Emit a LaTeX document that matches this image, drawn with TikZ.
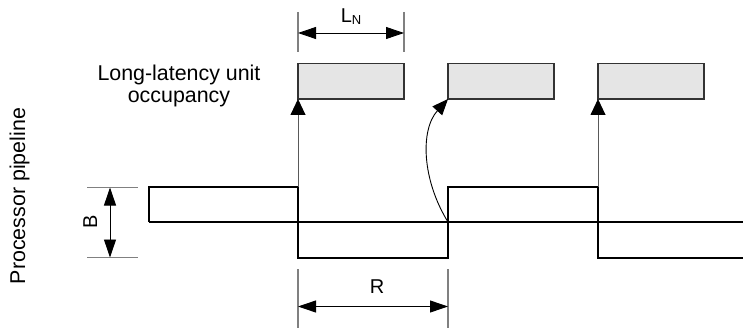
\documentclass[tikz,border=0pt]{standalone}
\usepackage{fontspec}
\setmainfont{Liberation Sans}
\usetikzlibrary{arrows.meta}
\begin{document}
\begin{tikzpicture}[x=1pt,y=-1pt,
  wave/.style={line width=2.4pt, line join=miter},
  ubox/.style={draw=black!80, line width=1.8pt, fill=black!10, minimum width=106pt, minimum height=35.5pt, inner sep=0pt, outer sep=0pt, anchor=south west},
  ext/.style={draw=black!50, line width=1.1pt},
  dim/.style={line width=0.9pt, {Triangle[length=18pt,width=12pt]}-{Triangle[length=18pt,width=12pt]}},
  sig/.style={line width=0.9pt, draw=black!65, -{Triangle[length=16pt,width=15pt,color=black]}},
  lbl/.style={font=\fontsize{21.4}{22}\selectfont, inner sep=0pt, align=center},
  dlbl/.style={font=\fontsize{20}{20}\selectfont, inner sep=0pt}
]
\useasboundingbox (0,0) rectangle (743,331);

% unit occupancy boxes
\node[ubox] (u1) at (298,99) {};
\node[ubox] (u2) at (448,99) {};
\node[ubox] (u3) at (598,99) {};

% waveform coordinates
\coordinate (w0) at (149,222);
\coordinate (w1) at (149,187);
\coordinate (w2) at (298,187);
\coordinate (w3) at (298,258);
\coordinate (w4) at (448,258);
\coordinate (w5) at (448,187);
\coordinate (w6) at (598,187);
\coordinate (w7) at (598,258);
\coordinate (w8) at (743,258);
\coordinate (m8) at (743,222);
\coordinate (x2) at (448,222);

\draw[wave] (w0) -- (w1) -- (w2) -- (w3) -- (w4) -- (w5) -- (w6) -- (w7) -- (w8);
\draw[wave] (w0) -- (m8);

% signal arrows
\draw[sig] (w2) -- (u1.south west);
\draw[sig] (w6) -- (u3.south west);
\draw[line width=0.9pt, -{Triangle[length=16pt,width=13pt]}] (x2) .. controls (422,180) and (420,130) .. (u2.south west);

% L_N dimension
\coordinate (la) at (298,12);
\coordinate (lb) at (298,52);
\coordinate (lc) at (404,12);
\coordinate (ld) at (404,52);
\coordinate (l1) at (298,33);
\coordinate (l2) at (404,33);
\draw[ext] (la) -- (lb);
\draw[ext] (lc) -- (ld);
\draw[dim] (l1) -- (l2);
\node[dlbl, anchor=base] (ln) at (351,23) {L\raisebox{-2pt}{\fontsize{13}{13}\selectfont N}};

% R dimension
\coordinate (ra) at (298,269);
\coordinate (rb) at (298,328);
\coordinate (rc) at (448,269);
\coordinate (rd) at (448,328);
\coordinate (r1) at (298,306.5);
\coordinate (r2) at (448,306.5);
\draw[ext] (ra) -- (rb);
\draw[ext] (rc) -- (rd);
\draw[dim] (r1) -- (r2);
\node[dlbl, anchor=base] (rl) at (377,293) {R};

% B dimension
\coordinate (ba) at (87,187.5);
\coordinate (bb) at (138,187.5);
\coordinate (bc) at (87,257.5);
\coordinate (bd) at (138,257.5);
\coordinate (b1) at (110,187.5);
\coordinate (b2) at (110,257.5);
\draw[ext] (ba) -- (bb);
\draw[ext] (bc) -- (bd);
\draw[dim] (b1) -- (b2);
\node[dlbl, anchor=base, rotate=90] (bl) at (97,221.5) {B};

% texts
\node[lbl] (occ) at (179,85.5) {Long-latency unit\\occupancy};
\node[lbl, anchor=base, rotate=90] (pp) at (25,196) {Processor pipeline};
\end{tikzpicture}
\end{document}
